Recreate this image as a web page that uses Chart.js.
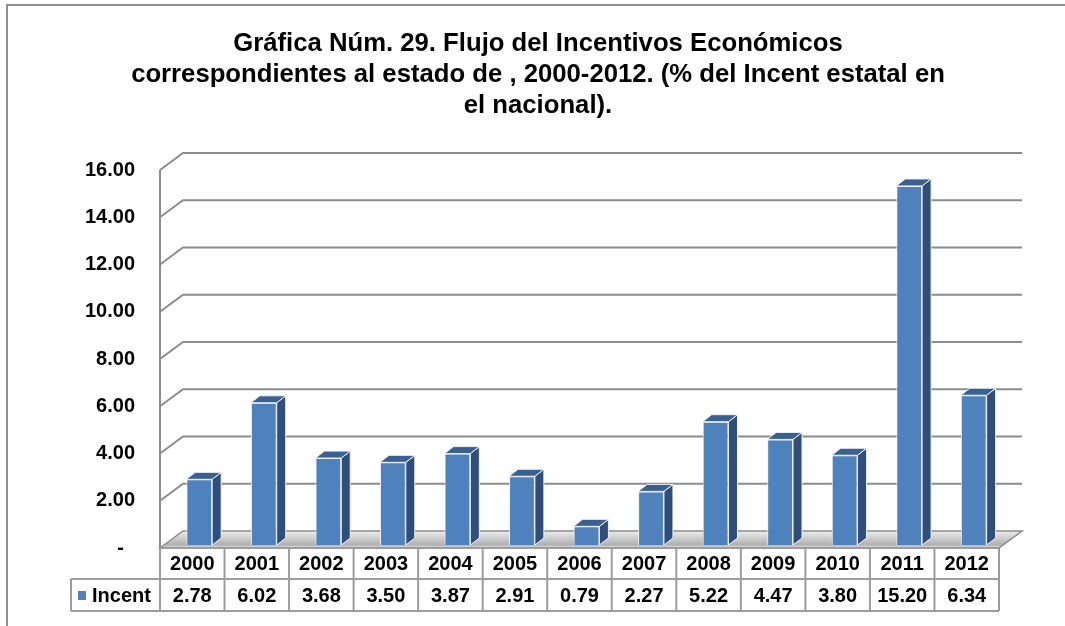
<!DOCTYPE html>
<html>
<head>
<meta charset="utf-8">
<script src="https://cdn.jsdelivr.net/npm/chart.js@4"></script>
<style>
  html, body { margin: 0; padding: 0; background: #fff; }
  canvas { display: block; }
</style>
</head>
<body>
<canvas id="myChart" width="1065" height="626"></canvas>
<script>
const years = ["2000", "2001", "2002", "2003", "2004", "2005", "2006", "2007", "2008", "2009", "2010", "2011", "2012"];
const incent = [2.78, 6.02, 3.68, 3.5, 3.87, 2.91, 0.79, 2.27, 5.22, 4.47, 3.8, 15.2, 6.34];
const seriesName = "Incent";
const yMin = 0;
const yMax = 16;
const yStep = 2;

const FONT = "'Liberation Sans', Arial, sans-serif";
const GRID = "#8C8C8C";
const WALL_DX = 23, WALL_DY = -17;   // depth of the 3d walls
const BAR_DX = 9, BAR_DY = -7;       // depth of each bar
const SHIFT_X = 7, SHIFT_Y = -3;     // bars sit a bit inside the box

// draws the 3d box, bar sides and the data table under the plot
const fake3d = {
  id: "fake3d",
  beforeDatasetsDraw(chart) {
    const { ctx, chartArea: a, scales: { y } } = chart;
    const y0 = y.getPixelForValue(0);
    ctx.save();
    ctx.strokeStyle = GRID;
    ctx.lineWidth = 2;
    y.ticks.forEach((t) => {
      if (t.value === 0) return;
      const py = y.getPixelForValue(t.value);
      ctx.beginPath();
      ctx.moveTo(a.left, py);
      ctx.lineTo(a.left + WALL_DX, py + WALL_DY);
      ctx.lineTo(a.right + WALL_DX, py + WALL_DY);
      ctx.stroke();
    });
    ctx.beginPath();
    ctx.moveTo(a.left, y.getPixelForValue(yMax));
    ctx.lineTo(a.left, y0);
    ctx.stroke();

    // floor
    const g = ctx.createLinearGradient(0, y0 + WALL_DY, 0, y0);
    g.addColorStop(0, "#EDEDED");
    g.addColorStop(0.55, "#C4C4C4");
    g.addColorStop(0.8, "#B0B0B0");
    g.addColorStop(1, "#E0E0E0");
    ctx.fillStyle = g;
    ctx.beginPath();
    ctx.moveTo(a.left, y0);
    ctx.lineTo(a.left + WALL_DX, y0 + WALL_DY);
    ctx.lineTo(a.right + WALL_DX, y0 + WALL_DY);
    ctx.lineTo(a.right, y0);
    ctx.closePath();
    ctx.fill();
    ctx.lineWidth = 1.5;
    ctx.stroke();
    ctx.restore();

    ctx.save();
    ctx.translate(SHIFT_X, SHIFT_Y);
  },
  afterDatasetsDraw(chart) {
    const { ctx } = chart;
    const meta = chart.getDatasetMeta(0);
    ctx.lineWidth = 1;
    ctx.strokeStyle = "#EEF2F8";
    meta.data.forEach((bar) => {
      const w = bar.width;
      const l = bar.x - w / 2, r = bar.x + w / 2;
      const top = bar.y, bottom = bar.base;
      // side
      ctx.fillStyle = "#2F4F7A";
      ctx.beginPath();
      ctx.moveTo(r, top);
      ctx.lineTo(r + BAR_DX, top + BAR_DY);
      ctx.lineTo(r + BAR_DX, bottom + BAR_DY);
      ctx.lineTo(r, bottom);
      ctx.closePath();
      ctx.fill();
      ctx.stroke();
      // top
      ctx.fillStyle = "#3A6092";
      ctx.beginPath();
      ctx.moveTo(l, top);
      ctx.lineTo(l + BAR_DX, top + BAR_DY);
      ctx.lineTo(r + BAR_DX, top + BAR_DY);
      ctx.lineTo(r, top);
      ctx.closePath();
      ctx.fill();
      ctx.stroke();
    });
    ctx.restore();
  },
  afterDraw(chart) {
    const { ctx, chartArea: a, scales: { x } } = chart;
    const half = (x.getPixelForValue(1) - x.getPixelForValue(0)) / 2;
    const r0 = a.bottom, r1 = a.bottom + 31, r2 = a.bottom + 63;
    const legendLeft = 71;
    ctx.save();
    ctx.strokeStyle = "#9C9C9C";
    ctx.lineWidth = 2;
    ctx.beginPath();
    ctx.moveTo(a.left, r0); ctx.lineTo(a.right, r0);
    ctx.moveTo(legendLeft, r1); ctx.lineTo(a.right, r1);
    ctx.moveTo(legendLeft, r2); ctx.lineTo(a.right, r2);
    ctx.moveTo(legendLeft, r1); ctx.lineTo(legendLeft, r2);
    ctx.moveTo(a.left, r0); ctx.lineTo(a.left, r2);
    years.forEach((yr, i) => {
      const xr = x.getPixelForValue(i) + half;
      ctx.moveTo(xr, r0); ctx.lineTo(xr, r2);
    });
    ctx.stroke();

    ctx.fillStyle = "#000";
    ctx.font = "bold 20px " + FONT;
    ctx.textAlign = "center";
    ctx.textBaseline = "middle";
    years.forEach((yr, i) => {
      const cx = x.getPixelForValue(i);
      ctx.fillText(yr, cx, (r0 + r1) / 2 + 1);
      ctx.fillText(incent[i].toFixed(2), cx, (r1 + r2) / 2 + 1);
    });
    // legend key
    ctx.fillStyle = "#4F81BD";
    ctx.fillRect(78, (r1 + r2) / 2 - 4, 8, 9);
    ctx.fillStyle = "#000";
    ctx.textAlign = "left";
    ctx.fillText(seriesName, 92, (r1 + r2) / 2 + 1);

    // outer frame
    ctx.strokeStyle = "#8E8E8E";
    ctx.lineWidth = 2;
    ctx.beginPath();
    ctx.moveTo(7, 626);
    ctx.lineTo(7, 5);
    ctx.lineTo(1065, 5);
    ctx.stroke();
    ctx.restore();
  },
};

const ctx = document.getElementById("myChart");

const myChart = new Chart(ctx, {
  type: "bar",
  data: {
    labels: years,
    datasets: [
      {
        label: seriesName,
        data: incent,
        backgroundColor: "#4F81BD",
        borderColor: "#EEF2F8",
        borderWidth: 1,
        barPercentage: 0.4,
        categoryPercentage: 1,
      },
    ],
  },
  options: {
    responsive: false,
    animation: false,
    devicePixelRatio: 1,
    layout: {
      padding: { left: 77, right: 66, top: 0, bottom: 78 },
    },
    scales: {
      x: {
        display: false,
      },
      y: {
        min: yMin,
        max: yMax,
        afterFit(scale) {
          scale.width = 83;
        },
        grid: { display: false, drawTicks: false },
        border: { display: false },
        ticks: {
          stepSize: yStep,
          padding: 25,
          color: "#000",
          font: { family: FONT, size: 20, weight: "bold" },
          callback: (v) => (v === 0 ? "-  " : v.toFixed(2)),
        },
      },
    },
    plugins: {
      legend: { display: false },
      tooltip: { enabled: false },
      title: {
        display: true,
        text: [
          "Gráfica Núm. 29. Flujo del Incentivos Económicos",
          "correspondientes al estado de , 2000-2012. (% del Incent estatal en",
          "el nacional).",
        ],
        color: "#000",
        font: { family: FONT, size: 25.7, weight: "bold", lineHeight: 1.19 },
        padding: { top: 29, bottom: 49.3 },
      },
    },
  },
  plugins: [fake3d],
});
</script>
</body>
</html>
